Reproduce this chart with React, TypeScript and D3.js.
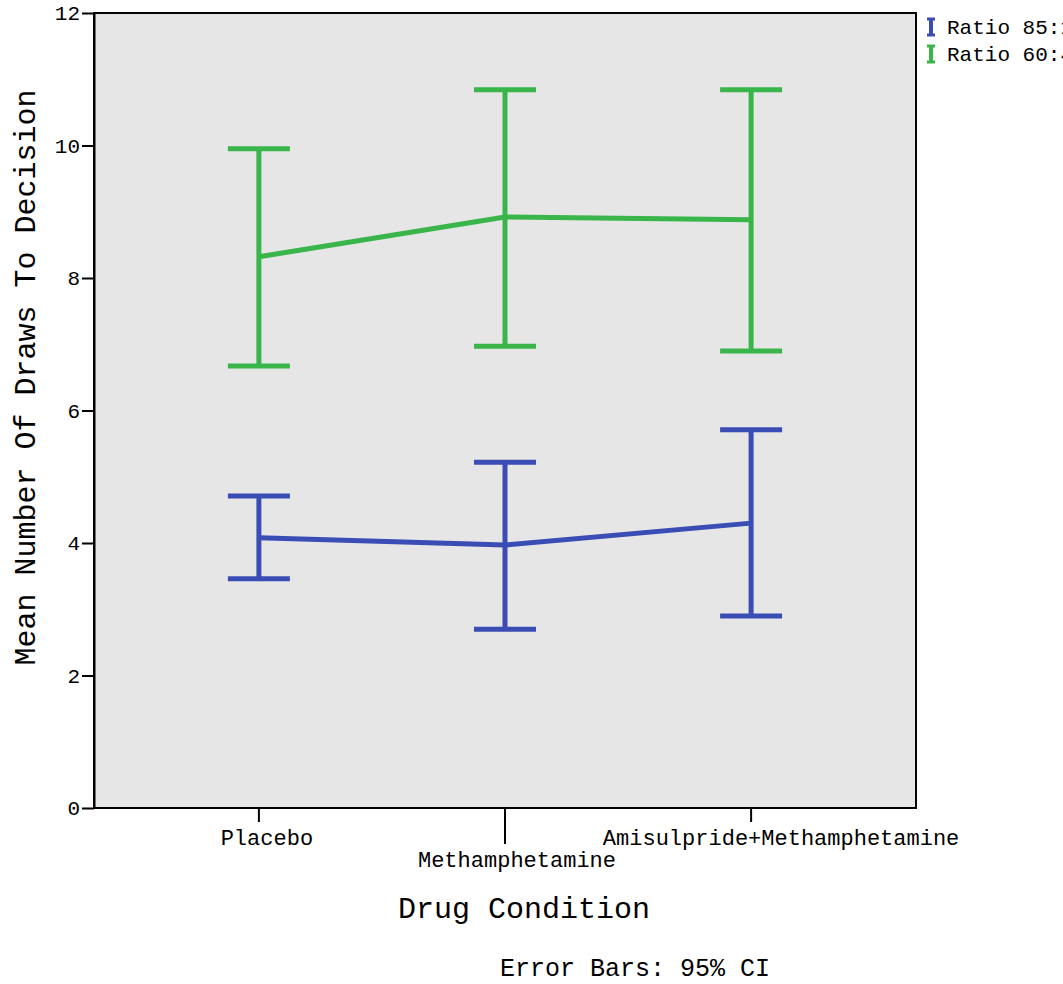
import React, { useEffect, useRef } from 'react';
import * as d3 from 'd3';

const categories = ['Placebo', 'Methamphetamine', 'Amisulpride+Methamphetamine'];
const seriesNames = ['Ratio 85:15', 'Ratio 60:40'];
const ratio85Mean = [4.08, 3.97, 4.3];
const ratio85Lower = [3.46, 2.7, 2.9];
const ratio85Upper = [4.71, 5.22, 5.71];
const ratio60Mean = [8.32, 8.92, 8.88];
const ratio60Lower = [6.67, 6.97, 6.9];
const ratio60Upper = [9.95, 10.84, 10.84];
const yTicks = [0, 2, 4, 6, 8, 10, 12];

const colors = ['#3a4db5', '#39b54a'];
const font = '"Liberation Mono", "DejaVu Sans Mono", monospace';
// small horizontal nudges of the category labels, as in the original layout
const labelNudge = [8, 12, 30];

export default function App() {
  const svgRef = useRef<SVGSVGElement>(null);

  useEffect(() => {
    if (!svgRef.current) return;
    const svg = d3.select(svgRef.current);
    svg.selectAll('*').remove();

    const width = 1063;
    const height = 984;
    const margin = { top: 13, right: 147, bottom: 176, left: 94 };

    const x = d3.scalePoint<string>()
      .domain(categories)
      .range([margin.left, width - margin.right])
      .padding(0.67);

    const y = d3.scaleLinear()
      .domain([0, 12])
      .range([height - margin.bottom, margin.top]);

    // plot background
    svg.append('rect')
      .attr('x', margin.left)
      .attr('y', margin.top)
      .attr('width', width - margin.left - margin.right)
      .attr('height', height - margin.top - margin.bottom)
      .attr('fill', '#e6e6e6')
      .attr('stroke', '#000')
      .attr('stroke-width', 2);

    const series = [
      { name: seriesNames[0], mean: ratio85Mean, lo: ratio85Lower, hi: ratio85Upper, color: colors[0] },
      { name: seriesNames[1], mean: ratio60Mean, lo: ratio60Lower, hi: ratio60Upper, color: colors[1] },
    ];

    const capHalf = 31;
    series.forEach(s => {
      const g = svg.append('g');
      const line = d3.line<number>()
        .x((_, i) => x(categories[i])!)
        .y(d => y(d));
      g.append('path')
        .datum(s.mean)
        .attr('fill', 'none')
        .attr('stroke', s.color)
        .attr('stroke-width', 5)
        .attr('d', line);

      categories.forEach((c, i) => {
        const cx = x(c)!;
        g.append('line')
          .attr('x1', cx).attr('x2', cx)
          .attr('y1', y(s.lo[i])).attr('y2', y(s.hi[i]))
          .attr('stroke', s.color).attr('stroke-width', 5);
        [s.lo[i], s.hi[i]].forEach(v => {
          g.append('line')
            .attr('x1', cx - capHalf).attr('x2', cx + capHalf)
            .attr('y1', y(v)).attr('y2', y(v))
            .attr('stroke', s.color).attr('stroke-width', 5);
        });
      });
    });

    // Y axis
    svg.append('g')
      .attr('transform', `translate(${margin.left},0)`)
      .call(d3.axisLeft(y).tickValues(yTicks).tickSizeInner(12).tickSizeOuter(0).tickPadding(2).tickFormat(d3.format('d')))
      .call(g => g.select('.domain').attr('stroke', '#000').attr('stroke-width', 2))
      .call(g => g.selectAll('.tick line').attr('stroke', '#000').attr('stroke-width', 2))
      .call(g => g.selectAll('.tick text')
        .attr('fill', '#000')
        .attr('font-family', font)
        .attr('font-size', '21px'));

    // X axis ticks (staggered labels)
    categories.forEach((c, i) => {
      const cx = x(c)!;
      const stagger = i % 2 === 1;
      svg.append('line')
        .attr('x1', cx).attr('x2', cx)
        .attr('y1', y(0)).attr('y2', y(0) + (stagger ? 36 : 14))
        .attr('stroke', '#000').attr('stroke-width', 2);
      svg.append('text')
        .attr('x', cx + labelNudge[i])
        .attr('y', y(0) + (stagger ? 59 : 37))
        .attr('text-anchor', 'middle')
        .attr('font-family', font)
        .attr('font-size', '22px')
        .text(c);
    });

    // axis titles
    svg.append('text')
      .attr('x', 524)
      .attr('y', 918)
      .attr('text-anchor', 'middle')
      .attr('font-family', font)
      .attr('font-size', '30px')
      .text('Drug Condition');

    svg.append('text')
      .attr('transform', `translate(35,${(margin.top + height - margin.bottom) / 2 - 33}) rotate(-90)`)
      .attr('text-anchor', 'middle')
      .attr('font-family', font)
      .attr('font-size', '30px')
      .text('Mean Number Of Draws To Decision');

    svg.append('text')
      .attr('x', 635)
      .attr('y', 976)
      .attr('text-anchor', 'middle')
      .attr('font-family', font)
      .attr('font-size', '25px')
      .text('Error Bars: 95% CI');

    // legend
    series.forEach((s, i) => {
      const ly = 27 + i * 27;
      const lg = svg.append('g').attr('transform', `translate(931,${ly})`);
      lg.append('line').attr('x1', 0).attr('x2', 0).attr('y1', -8).attr('y2', 8)
        .attr('stroke', s.color).attr('stroke-width', 4);
      lg.append('line').attr('x1', -4).attr('x2', 4).attr('y1', -8).attr('y2', -8)
        .attr('stroke', s.color).attr('stroke-width', 3);
      lg.append('line').attr('x1', -4).attr('x2', 4).attr('y1', 8).attr('y2', 8)
        .attr('stroke', s.color).attr('stroke-width', 3);
      lg.append('text')
        .attr('x', 16)
        .attr('y', 7)
        .attr('font-family', font)
        .attr('font-size', '21px')
        .text(s.name);
    });
  }, []);

  return (
    <svg
      ref={svgRef}
      width={1063}
      height={984}
      style={{ display: 'block', position: 'absolute', left: 0, top: 0, background: '#fff' }}
    />
  );
}
